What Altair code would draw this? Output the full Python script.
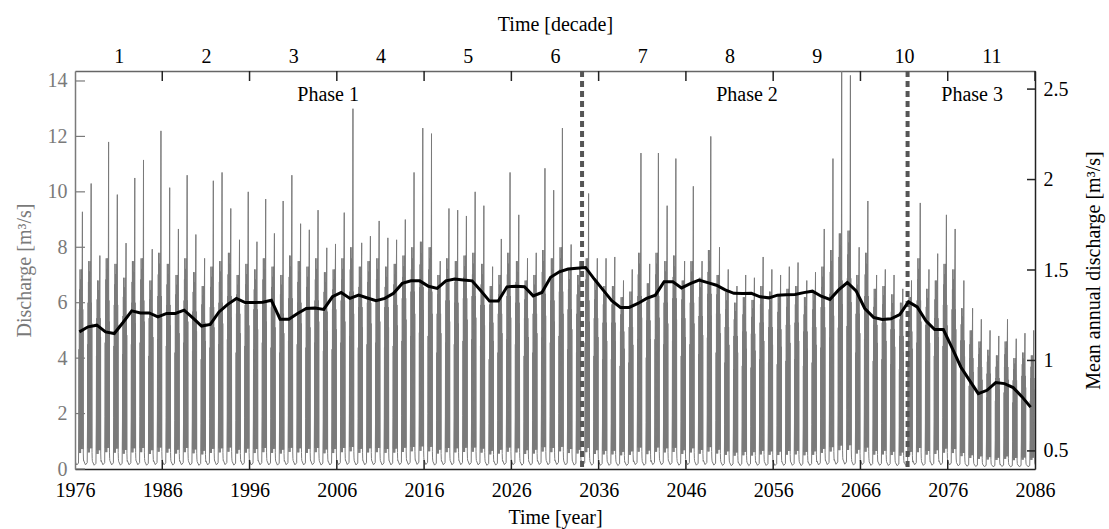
import altair as alt
import pandas as pd

# ---------------- data ----------------
years = list(range(1976, 2086))

# tallest spike of each year's high-flow season [m3/s]
peak_flow = [
    9.28, 10.3, 7.7, 11.8, 9.9, 8.15, 10.5, 11.15, 7.93, 12.2,
    10.15, 8.66, 10.6, 8.46, 7.6, 10.4, 10.7, 9.4, 8.27, 10.0,
    8.2, 9.74, 8.5, 9.67, 10.6, 8.85, 8.63, 9.34, 7.98, 8.12,
    9.25, 13.0, 8.16, 8.4, 8.95, 8.34, 8.27, 9.0, 10.7, 12.3,
    12.1, 7.5, 9.4, 9.34, 9.13, 10.0, 9.5, 7.3, 8.3, 10.7,
    9.17, 7.6, 7.8, 10.85, 10.06, 12.3, 8.1, 7.5, 9.94, 7.6,
    7.6, 7.65, 6.8, 7.2, 11.4, 7.4, 11.4, 9.5, 11.2, 7.5,
    10.2, 7.5, 12.0, 8.0, 7.2, 6.6, 7.0, 6.9, 7.65, 7.2,
    7.0, 7.3, 7.45, 6.8, 7.1, 8.66, 11.2, 15.0, 14.2, 8.0,
    9.67, 7.0, 7.2, 7.0, 6.5, 6.8, 9.6, 7.2, 7.77, 9.17,
    8.66, 6.8, 5.8, 5.4, 5.0, 4.8, 5.4, 4.7, 4.9, 5.0,
]

# height of the dense part of each year's high-flow season [m3/s]
band_flow = [
    7.2, 7.5, 6.8, 7.6, 7.4, 6.9, 7.5, 7.6, 6.8, 7.8,
    7.4, 7.0, 7.6, 7.1, 6.6, 7.3, 7.5, 7.8, 7.0, 7.4,
    7.2, 7.6, 7.3, 7.0, 7.7, 7.5, 7.3, 7.6, 7.1, 7.2,
    7.6, 8.0, 7.3, 7.5, 7.6, 7.3, 7.4, 7.7, 8.0, 8.2,
    8.0, 7.0, 7.6, 7.5, 7.7, 7.8, 7.4, 6.6, 7.0, 7.8,
    7.5, 6.8, 7.0, 7.9, 7.6, 8.0, 7.2, 7.0, 7.6, 6.8,
    6.6, 6.6, 6.2, 6.4, 7.8, 6.7, 7.8, 7.5, 7.7, 6.8,
    7.5, 6.9, 7.9, 7.0, 6.4, 6.0, 6.2, 6.1, 6.6, 6.4,
    6.3, 6.5, 6.6, 6.2, 6.4, 7.3, 7.9, 8.5, 8.6, 7.0,
    7.8, 6.5, 6.6, 6.3, 6.0, 6.2, 7.6, 6.5, 6.8, 7.4,
    7.2, 5.8, 5.0, 4.6, 4.3, 4.1, 4.6, 4.0, 4.2, 4.1,
]

# mean annual discharge [m3/s]
mean_flow = [
    1.158, 1.186, 1.195, 1.158, 1.149, 1.21, 1.274, 1.263, 1.263, 1.241,
    1.26, 1.26, 1.278, 1.235, 1.19, 1.199, 1.268, 1.31, 1.343, 1.32,
    1.32, 1.322, 1.333, 1.228, 1.228, 1.26, 1.287, 1.29, 1.282, 1.352,
    1.376, 1.343, 1.361, 1.345, 1.33, 1.343, 1.371, 1.426, 1.44, 1.44,
    1.41, 1.398, 1.44, 1.45, 1.445, 1.44, 1.385, 1.328, 1.328, 1.407,
    1.41, 1.407, 1.357, 1.376, 1.46, 1.49, 1.505, 1.51, 1.514, 1.45,
    1.39, 1.33, 1.293, 1.293, 1.315, 1.343, 1.361, 1.435, 1.435, 1.401,
    1.425, 1.444, 1.43, 1.416, 1.39, 1.371, 1.37, 1.371, 1.352, 1.346,
    1.361, 1.363, 1.365, 1.375, 1.383, 1.355, 1.337, 1.39, 1.431, 1.385,
    1.287, 1.238, 1.227, 1.23, 1.254, 1.324, 1.296, 1.219, 1.171, 1.171,
    1.07, 0.964, 0.89, 0.817, 0.835, 0.878, 0.872, 0.85, 0.8, 0.742,
]

# within-year hydrograph pattern: fraction of year, share of band height (None = peak)
season_frac = [0.00, 0.20, 0.40, 0.44, 0.46, 0.48, 0.50, 0.52, 0.54, 0.56,
               0.58, 0.60, 0.62, 0.64, 0.66, 0.68, 0.70, 0.72, 0.74, 0.76,
               0.78, 0.80, 0.82, 0.85, 0.87, 0.89, 0.91, 0.93, 0.95, 0.97, 0.99]
season_share = [0.04, 0.02, 0.03, 0.25, 0.60, 0.10, 0.80, 0.08, 0.90, 0.12,
                1.00, 0.10, 0.85, 0.08, 0.95, 0.12, 0.90, 0.10, 1.00, 0.12,
                0.85, 0.10, 0.95, None, 0.12, 0.80, 0.10, 0.70, 0.08, 0.05, 0.04]

year_ticks = [1976, 1986, 1996, 2006, 2016, 2026, 2036, 2046, 2056, 2066, 2076, 2086]
inner_ticks = [1986, 1996, 2006, 2016, 2026, 2036, 2046, 2056, 2066, 2076]
decade_centers = [1981, 1991, 2001, 2011, 2021, 2031, 2041, 2051, 2061, 2071, 2081]
decade_labels = ["1", "2", "3", "4", "5", "6", "7", "8", "9", "10", "11"]
left_ticks = [0, 2, 4, 6, 8, 10, 12, 14]
right_ticks = [0.5, 1, 1.5, 2, 2.5]
phase_names = ["Phase 1", "Phase 2", "Phase 3"]
phase_mid = [2005.0, 2053.0, 2078.8]
phase_breaks = [2034.1, 2071.4]

# ---------------- tables ----------------
rows = []
for yr, pk, bd in zip(years, peak_flow, band_flow):
    for f, s in zip(season_frac, season_share):
        rows.append({"t": yr + f, "q": pk if s is None else bd * s})
flow_df = pd.DataFrame(rows)
mean_df = pd.DataFrame({"yr": [y + 0.5 for y in years], "m": mean_flow})
inner_df = pd.DataFrame({"v": inner_ticks})
top_df = pd.DataFrame({"v": inner_ticks + [2086]})
lt_df = pd.DataFrame({"v": left_ticks})
rt_df = pd.DataFrame({"v": right_ticks})
phase_df = pd.DataFrame({"x": phase_mid, "name": phase_names})
break_df = pd.DataFrame({"v": phase_breaks})

W, H = 960, 398
FONT = "Liberation Serif"
FS = 20
GRAY = "#7a7a7a"

x_scale = alt.Scale(domain=[1976, 2086], nice=False, zero=False)
yl_scale = alt.Scale(domain=[0, 14.36], nice=False, zero=False)
yr_scale = alt.Scale(domain=[0.4, 2.6], nice=False, zero=False)

label_expr = " : ".join(
    f"datum.value == {c} ? '{l}'" for c, l in zip(decade_centers, decade_labels)
) + " : ''"

common = dict(grid=False, ticks=False, tickSize=0, labelFont=FONT, titleFont=FONT,
              labelFontSize=FS, titleFontSize=FS, titleFontWeight="normal",
              domainWidth=1.5, labelFlush=False, labelOverlap=False)

gray_line = alt.Chart(flow_df).mark_line(color=GRAY, strokeWidth=1, clip=True).encode(
    x=alt.X("t:Q", scale=x_scale, axis=alt.Axis(
        orient="bottom", values=year_ticks, format="d", title="Time [year]",
        labelPadding=11, titlePadding=7, domainColor="#222", labelColor="black",
        titleColor="black", **common)),
    y=alt.Y("q:Q", scale=yl_scale, axis=alt.Axis(
        orient="left", values=left_ticks, format="d", title="Discharge [m³/s]",
        labelPadding=8, titlePadding=13, domainColor=GRAY, labelColor=GRAY,
        titleColor=GRAY, **common)),
)

left_tick_marks = alt.Chart(lt_df).mark_rule(color=GRAY, strokeWidth=1.2).encode(
    y=alt.Y("v:Q", scale=yl_scale, axis=None), x=alt.value(0), x2=alt.value(10))
bottom_tick_marks = alt.Chart(inner_df).mark_rule(color="#222", strokeWidth=1.5).encode(
    x=alt.X("v:Q", scale=x_scale, axis=None), y=alt.value(H), y2=alt.value(H - 9))
breaks = alt.Chart(break_df).mark_rule(color="#555555", strokeWidth=4, strokeDash=[6, 4]).encode(
    x=alt.X("v:Q", scale=x_scale, axis=None))
phases = alt.Chart(phase_df).mark_text(font=FONT, fontSize=FS, color="black",
                                       baseline="middle", align="center").encode(
    x=alt.X("x:Q", scale=x_scale, axis=None), y=alt.value(24), text="name:N")

mean_line = alt.Chart(mean_df).mark_line(color="black", strokeWidth=3).encode(
    x=alt.X("yr:Q", scale=x_scale, axis=None),
    y=alt.Y("m:Q", scale=yr_scale, axis=alt.Axis(
        orient="right", values=right_ticks, format="~g",
        title="Mean annual discharge [m³/s]", titleAngle=270, titleBaseline="top",
        labelPadding=8, titlePadding=15, domainColor="#222", labelColor="black",
        titleColor="black", **common)),
)
right_tick_marks = alt.Chart(rt_df).mark_rule(color="#222", strokeWidth=1.5).encode(
    y=alt.Y("v:Q", scale=yr_scale, axis=None), x=alt.value(W - 8), x2=alt.value(W))

top_ticks = alt.Chart(top_df).mark_rule(color="#222", strokeWidth=1.5).encode(
    x=alt.X("v:Q", scale=x_scale, axis=alt.Axis(
        orient="top", values=decade_centers, labelExpr=label_expr,
        title="Time [decade]", labelPadding=5, titlePadding=12,
        domainColor="#666", labelColor="black", titleColor="black", **common)),
    y=alt.value(0), y2=alt.value(10))

chart = alt.layer(
    gray_line, left_tick_marks, bottom_tick_marks, breaks, phases,
    mean_line, right_tick_marks, top_ticks,
).resolve_scale(
    x="independent", y="independent"
).properties(
    width=W, height=H,
    padding={"left": 75, "top": 71, "right": 74, "bottom": 60},
    autosize=alt.AutoSizeParams(type="none"),
).configure_view(stroke=None).configure(background="white")

chart.save("out.html", embed_options={"renderer": "svg", "actions": False})
